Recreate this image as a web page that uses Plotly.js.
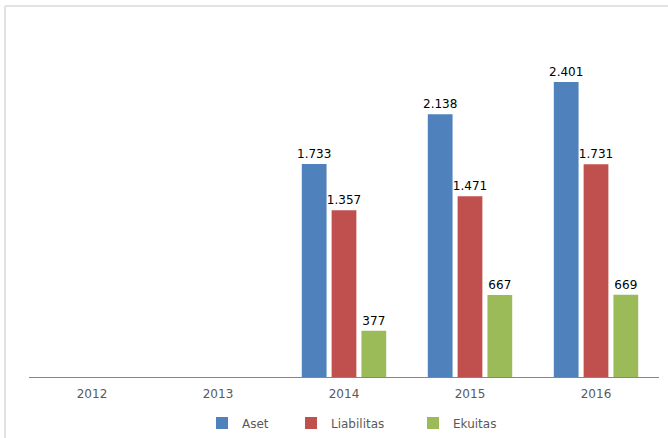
<!DOCTYPE html>
<html>
<head>
<meta charset="utf-8">
<script src="https://cdn.plot.ly/plotly-3.0.1.min.js"></script>
<style>html,body{margin:0;padding:0;background:#fff;}#chart{width:668px;height:438px;}</style>
</head>
<body>
<div id="chart"></div>
<script>
const years = ['2012', '2013', '2014', '2015', '2016'];
const aset = [null, null, 1733, 2138, 2401];
const liabilitas = [null, null, 1357, 1471, 1731];
const ekuitas = [null, null, 377, 667, 669];

const W = 668, H = 438;
const mL = 29, mR = 9, mT = 33, mB = 61;

function px(x) { return (x - mL) / (W - mL - mR); }
function py(y) { return 1 - (y - mT) / (H - mT - mB); }

function bar(name, y, color, legendId) {
  return {
    type: 'bar', name: name, x: years, y: y,
    legend: legendId,
    marker: {color: color},
    texttemplate: '%{y:,}', textposition: 'outside', cliponaxis: false,
    constraintext: 'none',
    textfont: {family: 'DejaVu Sans', size: 12, color: '#000'},
    hoverinfo: 'skip'
  };
}

const data = [
  bar('Aset', aset, '#4F81BD', 'legend'),
  bar('Liabilitas', liabilitas, '#C0504D', 'legend2'),
  bar('Ekuitas', ekuitas, '#9BBB59', 'legend3')
];

function leg(textX) {
  return {orientation: 'h', x: px(textX - 42), xanchor: 'left', y: py(423), yanchor: 'middle',
    bgcolor: 'rgba(0,0,0,0)', borderwidth: 0,
    font: {family: 'DejaVu Sans', size: 12, color: '#595959'}};
}

const layout = {
  width: W, height: H,
  margin: {l: mL, r: mR, t: mT, b: mB, autoexpand: false},
  paper_bgcolor: '#fff', plot_bgcolor: '#fff',
  separators: ',.',
  barmode: 'group', bargap: 0.29, bargroupgap: 0.17,
  showlegend: true,
  legend: leg(244),
  legend2: leg(333),
  legend3: leg(455),
  xaxis: {type: 'category', showline: true, linecolor: '#868686', linewidth: 1,
    ticks: '', ticklabelstandoff: 6,
    tickfont: {family: 'DejaVu Sans', size: 12, color: '#595959'},
    showgrid: false, zeroline: false, fixedrange: true},
  yaxis: {range: [0, 2800], visible: false, showgrid: false, zeroline: false, fixedrange: true},
  shapes: [
    {type: 'line', xref: 'paper', yref: 'paper', x0: px(5), x1: px(668), y0: py(6), y1: py(6),
      line: {color: '#D9D9D9', width: 1.5}},
    {type: 'line', xref: 'paper', yref: 'paper', x0: px(5), x1: px(5), y0: py(6), y1: py(438),
      line: {color: '#D9D9D9', width: 1.5}}
  ]
};

Plotly.newPlot('chart', data, layout, {displayModeBar: false, staticPlot: true});
</script>
</body>
</html>
